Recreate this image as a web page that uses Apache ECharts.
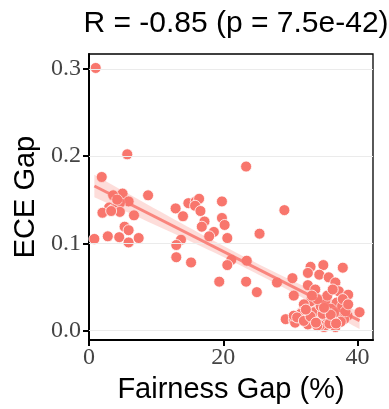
<!DOCTYPE html>
<html>
<head>
<meta charset="utf-8">
<script src="https://cdn.jsdelivr.net/npm/echarts@6/dist/echarts.min.js"></script>
<style>
  html, body { margin: 0; padding: 0; background: #fff; }
  #chart { width: 389px; height: 409px; }
</style>
</head>
<body>
<div id="chart"></div>
<script>
// Fairness gap (%) per model and the matching ECE gap
const fairnessGap = [
  1.0, 5.7, 1.9, 5.0, 3.6, 8.8, 5.9, 4.6, 3.0, 3.6, 2.0, 4.6, 6.7, 5.3, 5.9, 0.8, 2.8, 4.5, 5.9, 7.4, 4.2, 3.3,
  12.9, 14.0, 14.8, 15.9, 16.4, 15.8, 16.6, 19.8, 17.2, 16.8, 18.6, 17.9, 19.8, 20.2, 20.6, 25.4, 13.7, 13.0,
  13.0, 15.2, 21.2, 20.6, 23.5, 19.4, 23.4, 25.0, 23.4, 29.1, 28.0, 30.3, 30.5,
  33.0, 34.9, 37.8, 32.6, 34.3, 35.7, 36.7, 32.6, 33.7, 37.2, 38.6, 35.2, 33.0, 32.0, 36.9, 37.7, 40.3, 31.7,
  33.9, 36.0, 37.1, 38.5, 33.7, 35.2, 32.6, 35.0, 36.7, 38.0, 34.4, 36.2, 29.3, 30.5, 30.7, 31.5, 33.5, 34.0,
  30.5, 31.0, 32.0, 33.0, 34.8, 35.8, 36.5, 37.5, 38.2, 34.5, 35.5, 36.3, 34.0, 33.2, 36.0, 37.8, 32.3, 35.0,
  33.8, 36.8, 38.6
];
const eceGap = [
  0.301, 0.202, 0.176, 0.157, 0.155, 0.155, 0.148, 0.146, 0.141, 0.139, 0.135, 0.136, 0.132, 0.119, 0.115, 0.105, 0.108, 0.107, 0.101, 0.106, 0.150, 0.137,
  0.140, 0.131, 0.146, 0.148, 0.151, 0.143, 0.137, 0.148, 0.125, 0.119, 0.113, 0.108, 0.129, 0.121, 0.106, 0.111, 0.104, 0.098,
  0.084, 0.078, 0.081, 0.075, 0.080, 0.056, 0.056, 0.044, 0.188, 0.138, 0.055, 0.060, 0.040,
  0.073, 0.075, 0.072, 0.066, 0.064, 0.061, 0.055, 0.052, 0.047, 0.045, 0.041, 0.034, 0.033, 0.030, 0.032, 0.028, 0.021, 0.021,
  0.023, 0.025, 0.015, 0.017, 0.013, 0.014, 0.007, 0.004, 0.004, 0.013, 0.006, 0.012, 0.013, 0.012, 0.009, 0.019, 0.021, 0.0055,
  0.017, 0.015, 0.011, 0.016, 0.019, 0.008, 0.020, 0.010, 0.022, 0.028, 0.040, 0.047, 0.036, 0.040, 0.018, 0.036, 0.024, 0.026,
  0.009, 0.008, 0.030
];
const xTicks = [0, 20, 40];
const yTicks = [0.0, 0.1, 0.2, 0.3];
const titleText = 'R = -0.85 (p = 7.5e-42)';

const pointColor = '#F8766D';
const points = fairnessGap.map((x, i) => [x, eceGap[i]]);

// Ordinary least squares fit with a 95% confidence band for the mean
const n = points.length;
const xMean = fairnessGap.reduce((a, b) => a + b, 0) / n;
const yMean = eceGap.reduce((a, b) => a + b, 0) / n;
let sxx = 0, sxy = 0;
for (let i = 0; i < n; i++) {
  sxx += (fairnessGap[i] - xMean) ** 2;
  sxy += (fairnessGap[i] - xMean) * (eceGap[i] - yMean);
}
const slope = sxy / sxx;
const intercept = yMean - slope * xMean;
let sse = 0;
for (let i = 0; i < n; i++) {
  const r = eceGap[i] - (intercept + slope * fairnessGap[i]);
  sse += r * r;
}
const sigma = Math.sqrt(sse / (n - 2));
const tCrit = 1.98;
const xLo = Math.min(...fairnessGap);
const xHi = Math.max(...fairnessGap);
const fitLine = [[xLo, intercept + slope * xLo], [xHi, intercept + slope * xHi]];

const chart = echarts.init(document.getElementById('chart'), null, { renderer: 'canvas' });

chart.setOption({
  animation: false,
  backgroundColor: '#ffffff',
  title: {
    text: titleText,
    left: 231,
    top: 4,
    textAlign: 'center',
    textStyle: { fontFamily: 'Liberation Sans, Arial, sans-serif', fontSize: 30, fontWeight: 'normal', color: '#000' }
  },
  grid: {
    left: 89, right: 16, top: 54, bottom: 68,
    show: true, borderColor: '#000', borderWidth: 1.3, backgroundColor: 'transparent'
  },
  xAxis: {
    type: 'value', min: 0, max: 42.3,
    name: 'Fairness Gap (%)', nameLocation: 'middle', nameGap: 32,
    nameTextStyle: { fontFamily: 'Liberation Sans, Arial, sans-serif', fontSize: 29, color: '#000' },
    axisLine: { show: true, onZero: false, lineStyle: { color: '#000', width: 2 } },
    axisTick: { show: true, length: 6, customValues: xTicks, lineStyle: { color: '#000', width: 2 } },
    axisLabel: { customValues: xTicks, margin: 6, fontFamily: 'Liberation Serif, serif', fontSize: 24, color: '#444' },
    splitLine: { show: false }
  },
  yAxis: {
    type: 'value', min: -0.011, max: 0.317,
    name: 'ECE Gap', nameLocation: 'middle', nameGap: 46,
    nameTextStyle: { fontFamily: 'Liberation Sans, Arial, sans-serif', fontSize: 29, color: '#000' },
    axisLine: { show: true, onZero: false, lineStyle: { color: '#000', width: 2 } },
    axisTick: { show: true, length: 6, customValues: yTicks, lineStyle: { color: '#000', width: 2 } },
    axisLabel: { customValues: yTicks, margin: 8, fontFamily: 'Liberation Serif, serif', fontSize: 24, color: '#444',
      formatter: v => v.toFixed(1) },
    splitLine: { show: false }
  },
  series: [
    {
      // horizontal guide lines at each y tick
      type: 'line', data: [], silent: true, z: 1,
      markLine: {
        silent: true, symbol: 'none', label: { show: false },
        lineStyle: { color: '#ebebeb', width: 1, type: 'solid' },
        data: yTicks.map(v => ({ yAxis: v }))
      }
    },
    {
      type: 'scatter', data: points, z: 3,
      symbol: 'circle', symbolSize: 11,
      itemStyle: { color: pointColor, borderColor: '#ffffff', borderWidth: 0.8, opacity: 1 }
    },
    {
      // confidence band of the fitted line
      type: 'custom', z: 4, silent: true,
      data: [[xLo, xHi]],
      renderItem: (params, api) => {
        const steps = 40;
        const upper = [], lower = [];
        for (let k = 0; k <= steps; k++) {
          const x = xLo + (xHi - xLo) * k / steps;
          const yHat = intercept + slope * x;
          const se = sigma * Math.sqrt(1 / n + (x - xMean) ** 2 / sxx);
          upper.push(api.coord([x, yHat + tCrit * se]));
          lower.unshift(api.coord([x, yHat - tCrit * se]));
        }
        return {
          type: 'polygon',
          shape: { points: upper.concat(lower) },
          style: { fill: 'rgba(248,118,109,0.25)' }
        };
      }
    },
    {
      type: 'line', data: fitLine, z: 5, symbol: 'none', silent: true,
      lineStyle: { color: pointColor, width: 3, opacity: 0.85 }
    }
  ]
});
</script>
</body>
</html>
